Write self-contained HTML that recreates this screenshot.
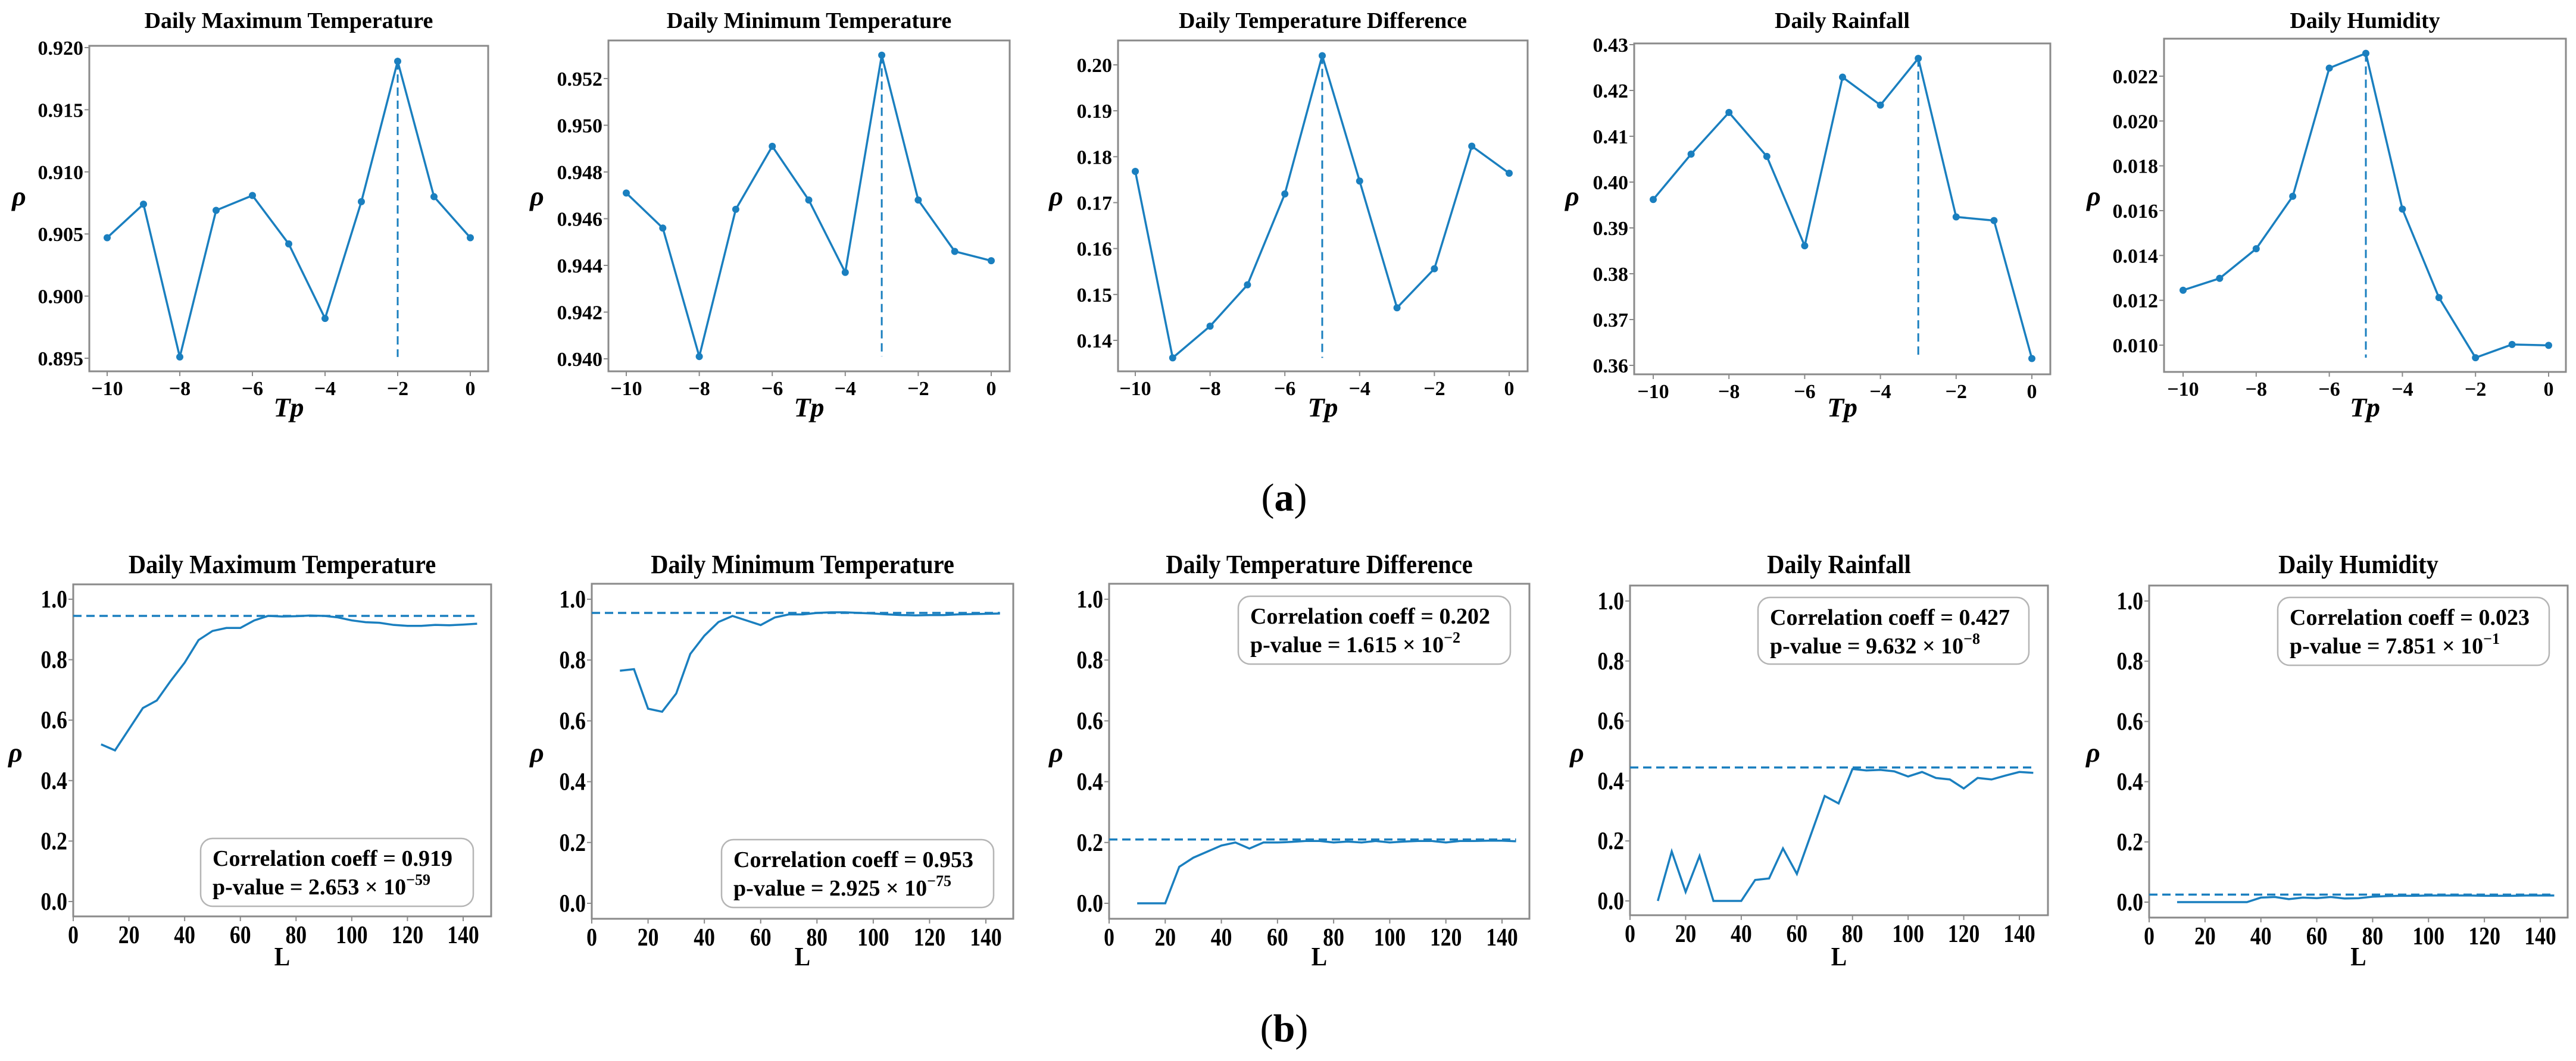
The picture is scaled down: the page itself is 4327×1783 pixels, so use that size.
<!DOCTYPE html>
<html><head><meta charset="utf-8">
<style>
html,body{margin:0;padding:0;background:#fff;}
svg{display:block;}
text{font-family:"Liberation Serif","DejaVu Serif",serif;font-weight:bold;fill:#000;}
</style></head>
<body>
<svg id="fig" width="4327" height="1783" viewBox="0 0 4327 1783" xmlns="http://www.w3.org/2000/svg"></svg>
<script>
// ---------- DATA ----------
const tpValues = [-10,-9,-8,-7,-6,-5,-4,-3,-2,-1,0];
const tpTicks = [-10,-8,-6,-4,-2,0];
const titles = ["Daily Maximum Temperature","Daily Minimum Temperature","Daily Temperature Difference","Daily Rainfall","Daily Humidity"];
const rhoMaxTemp = [0.9047,0.9074,0.8951,0.9069,0.9081,0.9042,0.8982,0.9076,0.9189,0.9080,0.9047];
const rhoMinTemp = [0.9471,0.9456,0.9401,0.9464,0.9491,0.9468,0.9437,0.9530,0.9468,0.9446,0.9442];
const rhoTempDiff = [0.1768,0.1362,0.1431,0.1521,0.1719,0.2020,0.1747,0.1471,0.1556,0.1823,0.1764];
const rhoRain = [0.3962,0.4061,0.4152,0.4056,0.3861,0.4229,0.4168,0.4270,0.3924,0.3916,0.3615];
const rhoHum = [0.01245,0.01298,0.01430,0.01664,0.02236,0.02302,0.01607,0.01212,0.00944,0.01003,0.00999];
const yTicksA1 = ["0.895","0.900","0.905","0.910","0.915","0.920"];
const yTicksA2 = ["0.940","0.942","0.944","0.946","0.948","0.950","0.952"];
const yTicksA3 = ["0.14","0.15","0.16","0.17","0.18","0.19","0.20"];
const yTicksA4 = ["0.36","0.37","0.38","0.39","0.40","0.41","0.42","0.43"];
const yTicksA5 = ["0.010","0.012","0.014","0.016","0.018","0.020","0.022"];

const lValues = [10,15,20,25,30,35,40,45,50,55,60,65,70,75,80,85,90,95,100,105,110,115,120,125,130,135,140,145];
const lTicks = [0,20,40,60,80,100,120,140];
const yTicksB = ["0.0","0.2","0.4","0.6","0.8","1.0"];
const convMaxTemp = [0.52,0.50,0.57,0.64,0.665,0.73,0.79,0.865,0.895,0.905,0.905,0.93,0.945,0.943,0.944,0.946,0.945,0.94,0.93,0.924,0.922,0.915,0.912,0.912,0.915,0.914,0.916,0.919];
const convMinTemp = [0.765,0.77,0.64,0.63,0.69,0.82,0.88,0.925,0.945,0.93,0.915,0.94,0.95,0.95,0.955,0.957,0.957,0.955,0.953,0.95,0.948,0.947,0.948,0.948,0.95,0.951,0.952,0.953];
const convTempDiff = [0,0,0,0.12,0.15,0.17,0.19,0.2,0.18,0.2,0.2,0.202,0.205,0.205,0.2,0.203,0.2,0.205,0.2,0.203,0.205,0.205,0.2,0.205,0.205,0.206,0.206,0.204];
const convRain = [0,0.165,0.03,0.15,0,0,0,0.07,0.075,0.175,0.09,0.22,0.35,0.325,0.44,0.435,0.437,0.432,0.415,0.43,0.41,0.405,0.375,0.41,0.405,0.418,0.43,0.427];
const convHum = [0,0,0,0,0,0,0.015,0.017,0.01,0.015,0.013,0.017,0.012,0.013,0.018,0.02,0.021,0.021,0.022,0.022,0.022,0.022,0.021,0.021,0.021,0.022,0.022,0.022];
const refLines = [0.945,0.955,0.21,0.445,0.025];
const coeffs = ["0.919","0.953","0.202","0.427","0.023"];
const pMant = ["2.653","2.925","1.615","9.632","7.851"];
const pExp = ["\u221259","\u221275","\u22122","\u22128","\u22121"];

// ---------- LAYOUT (pixels) ----------
const topLayout = [
 {l:150,r:820,t:77,b:624,x0:180,x1:790,v0:0.895,p0:602,v1:0.920,p1:80,rhoX:32,tickKey:0},
 {l:1022,r:1696,t:68,b:624,x0:1052,x1:1665,v0:0.940,p0:603,v1:0.952,p1:132,rhoX:902},
 {l:1878,r:2566,t:68,b:624,x0:1907,x1:2535,v0:0.14,p0:572,v1:0.20,p1:109,rhoX:1774},
 {l:2745,r:3444,t:73,b:629,x0:2777,x1:3413,v0:0.36,p0:614,v1:0.43,p1:75,rhoX:2641},
 {l:3635,r:4310,t:65,b:625,x0:3667,x1:4281,v0:0.010,p0:580,v1:0.022,p1:128,rhoX:3517}
];
const botLayout = [
 {l:123,r:825,t:982,b:1540,x140:778,p0:1515,p1:1007,rhoX:26,box:[337,1409,458,114]},
 {l:994,r:1702,t:981,b:1544,x140:1656,p0:1518,p1:1007,rhoX:902,box:[1212,1411,457,114]},
 {l:1863,r:2569,t:981,b:1544,x140:2523,p0:1518,p1:1007,rhoX:1774,box:[2080,1002,457,114]},
 {l:2738,r:3440,t:984,b:1538,x140:3392,p0:1514,p1:1010,rhoX:2649,box:[2953,1004,455,112]},
 {l:3610,r:4313,t:984,b:1542,x140:4267,p0:1516,p1:1010,rhoX:3516,box:[3826,1004,456,114]}
];
const topSeries = [rhoMaxTemp,rhoMinTemp,rhoTempDiff,rhoRain,rhoHum];
const topTicks = [yTicksA1,yTicksA2,yTicksA3,yTicksA4,yTicksA5];
const botSeries = [convMaxTemp,convMinTemp,convTempDiff,convRain,convHum];

const NS="http://www.w3.org/2000/svg";
const svg=document.getElementById('fig');
const BLUE="#1a7fbf", SPINE="#8a8a8a";
function mk(tag,attrs,parent){const e=document.createElementNS(NS,tag);for(const k in attrs)e.setAttribute(k,attrs[k]);(parent||svg).appendChild(e);return e;}
function txt(parent,x,y,s,size,anchor,sx,italic){
  const t=mk('text',{x:0,y:0,'font-size':size,'text-anchor':anchor||'middle',transform:`translate(${x},${y}) scale(${sx||1},1)`},parent);
  if(italic)t.setAttribute('font-style','italic');
  t.textContent=s;return t;}

// ---------- TOP PANELS ----------
topLayout.forEach((L,i)=>{
  const g=mk('g',{});
  
  
  const sx=v=>L.x0+(v-tpValues[0])/(tpValues[tpValues.length-1]-tpValues[0])*(L.x1-L.x0);
  const sy=v=>L.p0+(v-L.v0)/(L.v1-L.v0)*(L.p1-L.p0);
  const t=txt(g,(L.l+L.r)/2,47,titles[i],38);
  
  
  const ax=mk('rect',{x:L.l,y:L.t,width:L.r-L.l,height:L.b-L.t,fill:'none',stroke:SPINE,'stroke-width':3},g);
  
  
  topTicks[i].forEach(s=>{const y=sy(parseFloat(s));
    mk('line',{x1:L.l-8,x2:L.l,y1:y,y2:y,stroke:SPINE,'stroke-width':2},g);
    const tl=txt(g,L.l-10,y+12,s,34,'end');
    
    });
  tpTicks.forEach(v=>{const x=sx(v);
    mk('line',{x1:x,x2:x,y1:L.b,y2:L.b+8,stroke:SPINE,'stroke-width':2},g);
    const tl=txt(g,x,L.b+40,v<0?'\u2212'+Math.abs(v):String(v),34);
    
    });
  const xl=txt(g,(L.l+L.r)/2,700,'Tp',46,'middle',1,true);
  
  
  const yl=txt(g,L.rhoX,345,'\u03c1',46,'middle',1,true);
  
  
  const ys=topSeries[i];
  let mi=0;ys.forEach((v,k)=>{if(v>ys[mi])mi=k;});
  const mn=Math.min(...ys);
  const vl=mk('line',{x1:sx(tpValues[mi]),x2:sx(tpValues[mi]),y1:sy(ys[mi]),y2:sy(mn),stroke:BLUE,'stroke-width':3,'stroke-dasharray':'14,8'},g);
  
  
  const pl=mk('polyline',{points:ys.map((v,k)=>sx(tpValues[k])+','+sy(v)).join(' '),fill:'none',stroke:BLUE,'stroke-width':3.5},g);
  
  
  ys.forEach((v,k)=>{const c=mk('circle',{cx:sx(tpValues[k]),cy:sy(v),r:6,fill:BLUE},g);
    
    });
});

// ---------- BOTTOM PANELS ----------
botLayout.forEach((L,i)=>{
  const g=mk('g',{});
  
  
  const sx=v=>L.l+v/140*(L.x140-L.l);
  const sy=v=>L.p0+v*(L.p1-L.p0);
  const t=txt(g,(L.l+L.r)/2,963,titles[i],44,'middle',0.92);
  
  
  const ax=mk('rect',{x:L.l,y:L.t,width:L.r-L.l,height:L.b-L.t,fill:'none',stroke:SPINE,'stroke-width':3},g);
  
  
  yTicksB.forEach(s=>{const y=sy(parseFloat(s));
    mk('line',{x1:L.l-8,x2:L.l,y1:y,y2:y,stroke:SPINE,'stroke-width':2},g);
    const tl=txt(g,L.l-10,y+14,s,42,'end',0.85);
    
    });
  lTicks.forEach(v=>{const x=sx(v);
    mk('line',{x1:x,x2:x,y1:L.b,y2:L.b+8,stroke:SPINE,'stroke-width':2},g);
    const tl=txt(g,x,L.b+45,String(v),42,'middle',0.85);
    
    });
  const xl=txt(g,(L.l+L.r)/2,1622,'L',44,'middle',0.9);
  
  
  const yl=txt(g,L.rhoX,1280,'\u03c1',46,'middle',1,true);
  
  
  const hl=mk('line',{x1:sx(0),x2:sx(145),y1:sy(refLines[i]),y2:sy(refLines[i]),stroke:BLUE,'stroke-width':3.5,'stroke-dasharray':'14,8'},g);
  
  
  const ys=botSeries[i];
  const pl=mk('polyline',{points:ys.map((v,k)=>sx(lValues[k])+','+sy(v)).join(' '),fill:'none',stroke:BLUE,'stroke-width':3.5},g);
  
  
  const b=L.box;
  const bx=mk('rect',{x:b[0],y:b[1],width:b[2],height:b[3],rx:20,ry:20,fill:'#fff','fill-opacity':0.85,stroke:'#b5b5b5','stroke-width':2.5},g);
  
  
  const t1=txt(g,b[0]+20,b[1]+46,'Correlation coeff = '+coeffs[i],38,'start');
  
  
  const t2=mk('text',{x:0,y:0,'font-size':38,'text-anchor':'start',transform:`translate(${b[0]+20},${b[1]+94})`},g);
  
  
  t2.appendChild(document.createTextNode('p-value = '+pMant[i]+' \u00d7 10'));
  const sup=mk('tspan',{'font-size':26,dy:-16},t2);
  sup.textContent=pExp[i];
});

// ---------- SUBFIGURE LABELS ----------
function sub(label,y,name){
  const t=mk('text',{x:2157,y:y,'font-size':66,'text-anchor':'middle'});
  
  
  const a=mk('tspan',{'font-weight':'normal'},t);a.textContent='(';
  const b=mk('tspan',{},t);b.textContent=label;
  const c=mk('tspan',{'font-weight':'normal'},t);c.textContent=')';
}
sub('a',858,'subfigure-label-a');
sub('b',1750,'subfigure-label-b');
</script>
</body></html>
